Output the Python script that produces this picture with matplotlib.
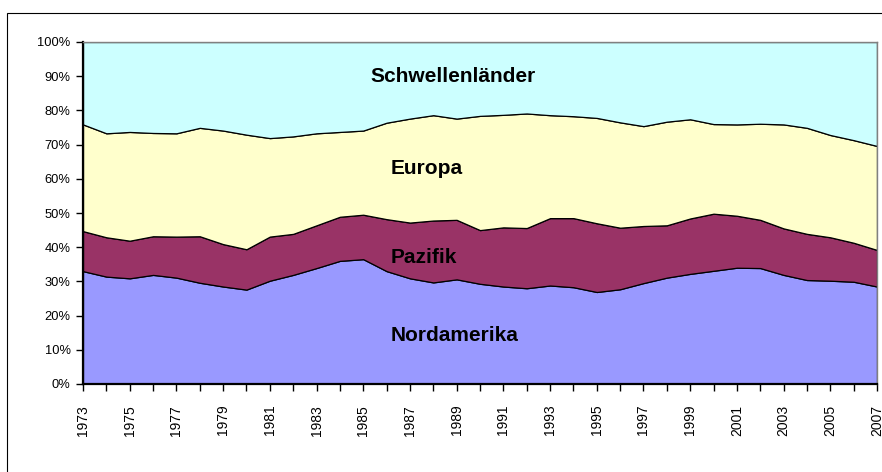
import matplotlib
matplotlib.use("Agg")
import matplotlib.pyplot as plt
import numpy as np
from matplotlib.patches import Rectangle

years = list(range(1973, 2008))
nordamerika = [33.0, 31.4, 30.9, 31.9, 31.1, 29.6, 28.5, 27.6, 30.2, 31.9,
               33.9, 36.0, 36.5, 33.0, 30.9, 29.7, 30.6, 29.3, 28.5, 28.0,
               28.8, 28.3, 26.9, 27.7, 29.5, 31.1, 32.2, 33.1, 34.0, 33.9,
               31.9, 30.4, 30.2, 29.9, 28.5]
pazifik = [11.7, 11.5, 11.0, 11.3, 12.0, 13.6, 12.4, 11.8, 12.9, 12.0,
           12.5, 12.9, 13.0, 15.2, 16.3, 18.1, 17.4, 15.7, 17.3, 17.6,
           19.7, 20.2, 20.1, 18.0, 16.7, 15.3, 16.2, 16.7, 15.2, 14.1,
           13.6, 13.5, 12.7, 11.4, 10.7]
europa = [31.2, 30.4, 31.8, 30.2, 30.2, 31.7, 33.2, 33.5, 28.8, 28.5,
          26.9, 24.8, 24.6, 28.2, 30.4, 30.8, 29.6, 33.4, 32.9, 33.5,
          30.1, 29.8, 30.8, 30.8, 29.2, 30.3, 29.0, 26.2, 26.7, 28.1,
          30.4, 31.0, 29.9, 30.0, 30.4]
schwellen = [24.1, 26.7, 26.3, 26.6, 26.7, 25.1, 25.9, 27.1, 28.1, 27.6,
             26.7, 26.3, 25.9, 23.6, 22.4, 21.4, 22.4, 21.6, 21.3, 20.9,
             21.4, 21.7, 22.2, 23.5, 24.6, 23.3, 22.6, 24.0, 24.1, 23.9,
             24.1, 25.1, 27.2, 28.7, 30.4]
series_names = ["Nordamerika", "Pazifik", "Europa", "Schwellenländer"]
colors = ["#9999FF", "#993366", "#FFFFCC", "#CCFFFF"]
y_ticks = list(range(0, 101, 10))
x_label_years = list(range(1973, 2008, 2))

W, H = 882, 472
fig = plt.figure(figsize=(W / 100, H / 100), dpi=100)
fig.patch.set_facecolor("white")
# outer chart border (extends past the image right/bottom)
fig.patches.append(Rectangle((7 / W, -0.1), 1.2, 1 - 13 / H + 0.1,
                             transform=fig.transFigure, fill=False,
                             edgecolor="#000000", linewidth=0.8))

ax = fig.add_axes([83 / W, 1 - 384 / H, (877 - 83) / W, (384 - 42) / H])
vals = np.array([nordamerika, pazifik, europa, schwellen])
tot = vals.sum(axis=0)
vals = vals / tot * 100
ax.stackplot(years, vals, colors=colors, edgecolor="black", linewidth=0.9)
ax.set_xlim(years[0], years[-1])
ax.set_ylim(0, 100)

ax.set_yticks(y_ticks)
ax.set_yticklabels([f"{v}%" for v in y_ticks], fontsize=9.3,
                   family="Liberation Sans")
ax.set_xticks(years, minor=True)
ax.set_xticks(x_label_years)
ax.set_xticklabels([str(y) for y in x_label_years], rotation=90,
                   fontsize=10, family="Liberation Sans")
ax.tick_params(axis="y", length=5, width=1, direction="out", pad=4)
ax.tick_params(axis="x", which="both", length=5, width=1, direction="out",
               pad=10)
for s in ["left", "bottom"]:
    ax.spines[s].set_linewidth(1.6)
    ax.spines[s].set_color("black")
for s in ["top", "right"]:
    ax.spines[s].set_linewidth(1.0)
    ax.spines[s].set_color("#808080")

def px(x, y):
    return x / W, 1 - y / H

kw = dict(fontsize=15, fontweight="bold", family="Liberation Sans",
          ha="left", va="baseline", color="black")
fig.text(*px(370, 81.7), series_names[3], **kw)
fig.text(*px(391, 174), series_names[2], **kw)
fig.text(*px(391, 262.7), series_names[1], **kw)
fig.text(*px(391, 340.7), series_names[0], **kw)

fig.savefig("out.png", dpi=100)
